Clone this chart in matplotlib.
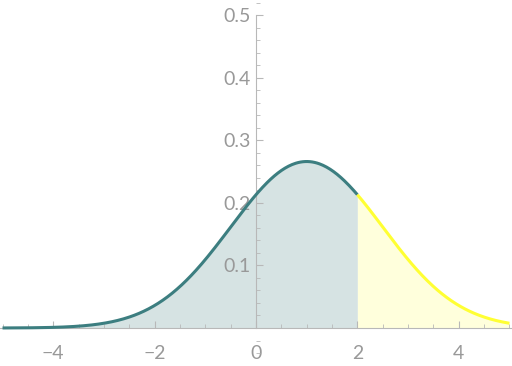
import numpy as np
import matplotlib
matplotlib.use("Agg")
from matplotlib import pyplot as plt
from matplotlib.ticker import MultipleLocator

# normal distribution: peak ~0.266 at x=1
MU = 1.0
SIGMA = 1.5
X_MIN, X_CUT, X_MAX = -5.0, 2.0, 5.0

X_TICKS = [-4, -2, 0, 2, 4]
Y_TICKS = [0.1, 0.2, 0.3, 0.4, 0.5]

TEAL = "#3c7e80"
TEAL_FILL = "#d6e3e3"
YELLOW = "#ffff33"
YELLOW_FILL = "#ffffdc"
AXIS_GRAY = "#b8b8b8"
LABEL_GRAY = "#999999"


def pdf(x):
    return np.exp(-0.5 * ((x - MU) / SIGMA) ** 2) / (SIGMA * np.sqrt(2 * np.pi))


plt.rcParams["font.family"] = ["Lato", "DejaVu Sans"]

fig = plt.figure(figsize=(5.12, 3.66), dpi=100)
ax = fig.add_axes([0, 0, 1, 1])

x_left = np.linspace(X_MIN, X_CUT, 300)
x_right = np.linspace(X_CUT, X_MAX, 200)

ax.fill_between(x_left, 0, pdf(x_left), color=TEAL_FILL, lw=0, zorder=1)
ax.fill_between(x_right, 0, pdf(x_right), color=YELLOW_FILL, lw=0, zorder=1)
ax.plot(x_left, pdf(x_left), color=TEAL, lw=2.2, zorder=3, solid_capstyle="butt")
ax.plot(x_right, pdf(x_right), color=YELLOW, lw=2.2, zorder=3, solid_capstyle="butt")

ax.set_xlim(-5.05, 5.05)
ax.set_ylim(-0.0607, 0.524)

for side in ["top", "right"]:
    ax.spines[side].set_visible(False)
ax.spines["left"].set_position(("data", 0))
ax.spines["bottom"].set_position(("data", 0))
ax.spines["left"].set_bounds(0, 0.5)
ax.spines["left"].set_color(AXIS_GRAY)
ax.spines["bottom"].set_color(AXIS_GRAY)
ax.spines["left"].set_zorder(2)
ax.spines["bottom"].set_zorder(2)

ax.set_xticks(X_TICKS)
ax.set_xticklabels(["\u22124", "\u22122", "0", "2", "4"])
ax.set_yticks(Y_TICKS)
ax.set_yticklabels(["0.1", "0.2", "0.3", "0.4", "0.5"])
ax.xaxis.set_minor_locator(MultipleLocator(0.5))
ax.yaxis.set_minor_locator(MultipleLocator(0.02))

ax.tick_params(axis="both", which="both", direction="in", color=AXIS_GRAY,
               labelcolor=LABEL_GRAY, labelsize=14)
ax.tick_params(axis="both", which="major", length=5, width=0.8)
ax.tick_params(axis="both", which="minor", length=3, width=0.6)
ax.tick_params(axis="x", pad=12)
ax.tick_params(axis="y", pad=4)

fig.savefig("out.png", dpi=100)
